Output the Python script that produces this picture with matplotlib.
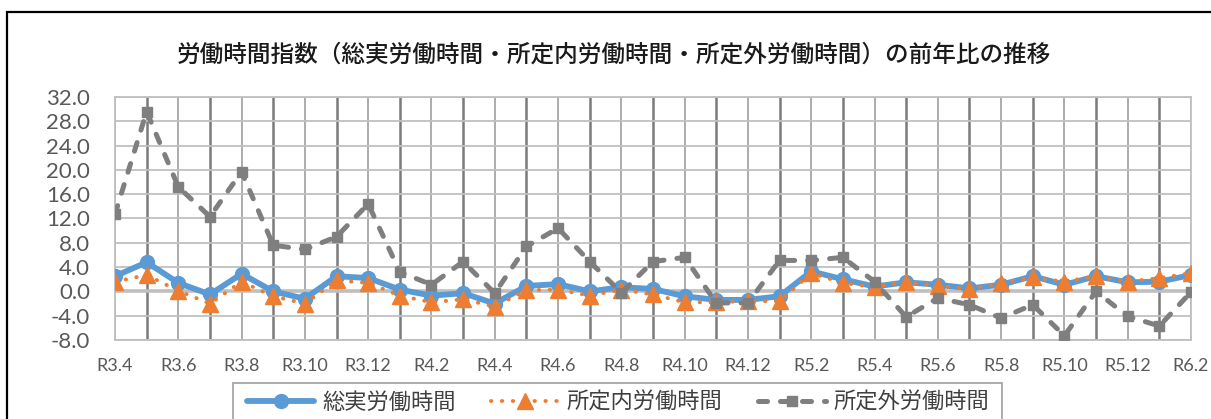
import matplotlib
matplotlib.use("Agg")
import matplotlib.pyplot as plt
import matplotlib.patches as patches
from matplotlib.ticker import FixedLocator, FormatStrFormatter

plt.rcParams['font.family'] = ['Lato', 'Noto Sans CJK JP', 'DejaVu Sans']

# months R3.4 .. R6.2
months = ['R3.4', 'R3.5', 'R3.6', 'R3.7', 'R3.8', 'R3.9', 'R3.10', 'R3.11', 'R3.12',
          'R4.1', 'R4.2', 'R4.3', 'R4.4', 'R4.5', 'R4.6', 'R4.7', 'R4.8', 'R4.9',
          'R4.10', 'R4.11', 'R4.12',
          'R5.1', 'R5.2', 'R5.3', 'R5.4', 'R5.5', 'R5.6', 'R5.7', 'R5.8', 'R5.9',
          'R5.10', 'R5.11', 'R5.12',
          'R6.1', 'R6.2']

total_hours = [2.5, 4.8, 1.4, -0.5, 2.9, 0.0, -1.2, 2.5, 2.2,
               0.3, -0.7, -0.3, -2.0, 0.9, 1.2, 0.0, 0.7, 0.4, -0.8, -1.4, -1.4,
               -0.8, 3.3, 2.0, 0.8, 1.5, 1.1, 0.5, 1.1, 2.5, 1.1, 2.5, 1.5,
               1.6, 2.7]
scheduled_hours = [1.6, 2.7, 0.1, -2.0, 1.6, -0.8, -2.0, 1.8, 1.4,
                   -0.7, -1.8, -1.3, -2.5, 0.2, 0.3, -0.7, 0.3, -0.5, -1.8, -1.8, -1.6,
                   -1.6, 3.0, 1.4, 0.7, 1.6, 0.9, 0.4, 1.4, 2.3, 1.6, 2.5, 1.6,
                   2.2, 3.0]
overtime_hours = [12.7, 29.6, 17.2, 12.3, 19.7, 7.6, 6.9, 9.0, 14.4,
                  3.2, 1.1, 4.9, -0.3, 7.4, 10.4, 4.9, -0.2, 4.9, 5.6, -1.9, -1.9,
                  5.1, 5.1, 5.6, 1.6, -4.2, -1.1, -2.2, -4.4, -2.2, -7.3, 0.0, -4.1,
                  -5.7, -0.1]

yticks = [-8, -4, 0, 4, 8, 12, 16, 20, 24, 28, 32]

title = '労働時間指数（総実労働時間・所定内労働時間・所定外労働時間）の前年比の推移'
names = ['総実労働時間', '所定内労働時間', '所定外労働時間']

fig = plt.figure(figsize=(12.11, 4.19), dpi=100)
ax = fig.add_axes([115 / 1211, 1 - 340 / 419, 1076 / 1211, 243 / 419])

x = list(range(len(months)))

# grid
ax.set_ylim(-8, 32)
ax.set_xlim(0, len(months) - 1)
ax.yaxis.set_major_locator(FixedLocator(yticks))
ax.yaxis.set_major_formatter(FormatStrFormatter('%.1f'))
ax.xaxis.set_major_locator(FixedLocator(x[::2]))
ax.xaxis.set_minor_locator(FixedLocator(x[1::2]))
ax.set_xticklabels(months[::2])
ax.grid(axis='y', color='#c0c0c0', linewidth=1.3)
ax.grid(axis='x', which='major', color='#a6a6a6', linewidth=1.3)
ax.grid(axis='x', which='minor', color='#7a7a7a', linewidth=1.8)
ax.set_axisbelow(True)
ax.axhline(0, color='#bfbfbf', linewidth=2.6, zorder=1.5)
for s in ax.spines.values():
    s.set_color('#bfbfbf')
    s.set_linewidth(1.3)

ax.tick_params(axis='both', which='both', length=0, colors='#595959')
ax.tick_params(axis='y', labelsize=16, pad=18)
ax.tick_params(axis='x', labelsize=13, pad=13)

l1, = ax.plot(x, total_hours, color='#5b9bd5', linewidth=4.2, marker='o',
              markersize=10, solid_capstyle='round', solid_joinstyle='round',
              zorder=3, label=names[0])
l2, = ax.plot(x, scheduled_hours, color='#ed7d31', linewidth=2.8, linestyle=(0, (0.1, 2.7)),
              dash_capstyle='round', marker='^', markersize=12, zorder=4, label=names[1])
l3, = ax.plot(x, overtime_hours, color='#7f7f7f', linewidth=3.6, linestyle=(0, (1.8, 2.6)),
              dash_capstyle='round', marker='s', markersize=7.5, zorder=5, label=names[2])

fig.text(614 / 1211, 1 - 55 / 419, title, ha='center', va='center',
         fontsize=17, fontweight='medium', color='#1a1a1a', family=['Noto Sans CJK JP'])

leg = fig.legend(handles=[l1, l2, l3], loc='center', ncol=3,
                 bbox_to_anchor=(618 / 1211, 1 - 402 / 419),
                 prop={'family': 'Noto Sans CJK JP', 'size': 16},
                 handlelength=3.05, columnspacing=1.6, handletextpad=0.35,
                 borderpad=0.0, borderaxespad=0.0, frameon=False)
for t in leg.get_texts():
    t.set_color('#404040')

# legend frame (runs off the bottom edge like the original)
fig.patches.append(patches.Rectangle((233 / 1211, -0.1), 769 / 1211, 0.1 + 1 - 383 / 419,
                                     transform=fig.transFigure, fill=False,
                                     edgecolor='#a6a6a6', linewidth=1.3))

# outer chart border
fig.patches.append(patches.Rectangle((7 / 1211, -0.2), 1.5, 1.2 - 12 / 419,
                                     transform=fig.transFigure, fill=False,
                                     edgecolor='black', linewidth=1.6))

fig.savefig('out.png', dpi=100)
